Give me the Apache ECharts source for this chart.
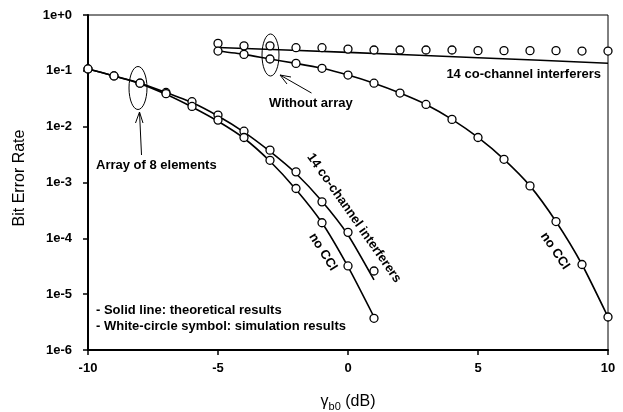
<!DOCTYPE html>
<html>
<head>
<meta charset="utf-8">
<script src="https://cdn.jsdelivr.net/npm/echarts@6/dist/echarts.min.js"></script>
<style>
  html, body { margin: 0; padding: 0; background: #fff; }
  #main { width: 623px; height: 412px; }
</style>
</head>
<body>
<div id="main"></div>
<script>
// x values (dB)
var xArr = [-10, -9, -8, -7, -6, -5, -4, -3, -2, -1, 0, 1];
var xNoArr = [-5, -4, -3, -2, -1, 0, 1, 2, 3, 4, 5, 6, 7, 8, 9, 10];

// array of 8 elements, 14 CCI
var arrCciSim = [0.108, 0.081, 0.060, 0.041, 0.028, 0.0161, 0.0083, 0.0038, 0.00155, 4.5e-4, 1.28e-4, 2.6e-5];
var arrCciTheory = [0.108, 0.081, 0.060, 0.041, 0.027, 0.0155, 0.0080, 0.0036, 0.00145, 4.6e-4, 1.15e-4, 1.8e-5];
// array of 8 elements, no CCI
var arrNoSim = [0.108, 0.081, 0.060, 0.039, 0.023, 0.0131, 0.0064, 0.0025, 7.8e-4, 1.9e-4, 3.2e-5, 3.7e-6];
var arrNoTheory = [0.108, 0.081, 0.059, 0.038, 0.0225, 0.0125, 0.0062, 0.0024, 7.5e-4, 1.9e-4, 3.1e-5, 3.9e-6];

// without array, 14 CCI
var noArrCciSim = [0.31, 0.28, 0.28, 0.26, 0.26, 0.245, 0.236, 0.236, 0.236, 0.236, 0.23, 0.23, 0.23, 0.23, 0.226, 0.226];
var noArrCciTheoryX = [-5, 0, 5, 10];
var noArrCciTheory = [0.262, 0.214, 0.172, 0.137];
// without array, no CCI
var noArrNoSim = [0.226, 0.197, 0.163, 0.136, 0.111, 0.084, 0.060, 0.040, 0.025, 0.0135, 0.0064, 0.0026, 8.7e-4, 2.0e-4, 3.4e-5, 3.9e-6];

var yTickLabels = ['1e-6', '1e-5', '1e-4', '1e-3', '1e-2', '1e-1', '1e+0'];
var xTickLabels = ['-10', '-5', '0', '5', '10'];

function pairs(xs, ys) {
  return xs.map(function (x, i) { return [x, ys[i]]; });
}

var font = '"Liberation Sans", Arial, sans-serif';
var bf = 'bold 13px ' + font;

var lineSeries = function (data) {
  return {
    type: 'line', data: data, showSymbol: false, symbol: 'none', smooth: 0.2,
    lineStyle: { color: '#000', width: 1.6 }, silent: true, z: 2
  };
};
var simSeries = function (data) {
  return {
    type: 'scatter', data: data, symbol: 'circle', symbolSize: 8,
    itemStyle: { color: '#fff', borderColor: '#000', borderWidth: 1.3, opacity: 1 }, z: 3
  };
};

var chart = echarts.init(document.getElementById('main'));
var option = {
  backgroundColor: '#fff',
  animation: false,
  grid: { left: 88, right: 15, top: 15, bottom: 62, show: true, borderColor: '#000', borderWidth: 1 },
  xAxis: {
    type: 'value', min: -10, max: 10, interval: 5,
    axisLine: { onZero: false, lineStyle: { color: '#000', width: 2 } },
    axisTick: { lineStyle: { color: '#000', width: 1.5 }, length: 5 },
    splitLine: { show: false },
    axisLabel: {
      color: '#000', fontFamily: font, fontWeight: 'bold', fontSize: 13, margin: 12,
      formatter: function (v) { return xTickLabels[(v + 10) / 5]; }
    }
  },
  yAxis: {
    type: 'log', logBase: 10, min: 1e-6, max: 1,
    axisLine: { onZero: false, lineStyle: { color: '#000', width: 2 } },
    axisTick: { lineStyle: { color: '#000', width: 1.5 }, length: 5 },
    minorTick: { show: false },
    splitLine: { show: false },
    axisLabel: {
      color: '#000', fontFamily: font, fontWeight: 'bold', fontSize: 13, margin: 16,
      formatter: function (v) { return yTickLabels[Math.round(Math.log10(v)) + 6]; }
    }
  },
  series: [
    lineSeries(pairs(xArr, arrCciTheory)),
    lineSeries(pairs(xArr, arrNoTheory)),
    lineSeries(pairs(noArrCciTheoryX, noArrCciTheory)),
    lineSeries(pairs(xNoArr, noArrNoSim)),
    simSeries(pairs(xArr, arrCciSim)),
    simSeries(pairs(xArr, arrNoSim)),
    simSeries(pairs(xNoArr, noArrCciSim)),
    simSeries(pairs(xNoArr, noArrNoSim))
  ],
  graphic: [
    // axis titles
    { type: 'text', x: 20, y: 178, rotation: Math.PI / 2, style: { text: 'Bit Error Rate', font: '16px ' + font, fill: '#000', align: 'center', verticalAlign: 'middle' } },
    { type: 'text', x: 348, y: 402, style: {
      text: '{g|γ}{s|b0}{n| (dB)}', align: 'center', verticalAlign: 'middle',
      rich: {
        g: { font: '16px ' + font, fill: '#000' },
        s: { font: '11px ' + font, fill: '#000', padding: [9, 0, 0, 0] },
        n: { font: '16px ' + font, fill: '#000' }
      }
    } },
    // annotations
    { type: 'text', x: 601, y: 74, style: { text: '14 co-channel interferers', font: bf, fill: '#000', align: 'right', verticalAlign: 'middle' } },
    { type: 'text', x: 269, y: 103, style: { text: 'Without array', font: bf, fill: '#000', align: 'left', verticalAlign: 'middle' } },
    { type: 'text', x: 96, y: 165, style: { text: 'Array of 8 elements', font: bf, fill: '#000', align: 'left', verticalAlign: 'middle' } },
    { type: 'text', x: 354, y: 218, rotation: -55 * Math.PI / 180, style: { text: '14 co-channel interferers', font: bf, fill: '#000', align: 'center', verticalAlign: 'middle' } },
    { type: 'text', x: 323, y: 252, rotation: -58 * Math.PI / 180, style: { text: 'no CCI', font: bf, fill: '#000', align: 'center', verticalAlign: 'middle' } },
    { type: 'text', x: 555, y: 251, rotation: -56 * Math.PI / 180, style: { text: 'no CCI', font: bf, fill: '#000', align: 'center', verticalAlign: 'middle' } },
    { type: 'text', x: 96, y: 310, style: { text: '- Solid line: theoretical results', font: bf, fill: '#000', align: 'left', verticalAlign: 'middle' } },
    { type: 'text', x: 96, y: 326, style: { text: '- White-circle symbol: simulation results', font: bf, fill: '#000', align: 'left', verticalAlign: 'middle' } },
    // ellipses
    { type: 'ellipse', shape: { cx: 138, cy: 88, rx: 9, ry: 21.5 }, style: { fill: 'none', stroke: '#000', lineWidth: 1 }, z: 10 },
    { type: 'ellipse', shape: { cx: 270.5, cy: 55, rx: 8.5, ry: 21 }, style: { fill: 'none', stroke: '#000', lineWidth: 1 }, z: 10 },
    // arrows
    { type: 'polyline', shape: { points: [[141.5, 155], [139.5, 112]] }, style: { stroke: '#000', lineWidth: 1 }, z: 10 },
    { type: 'polyline', shape: { points: [[135.5, 123], [139.5, 112], [143, 123]] }, style: { stroke: '#000', fill: 'none', lineWidth: 1 }, z: 10 },
    { type: 'polyline', shape: { points: [[311.5, 93], [280, 75]] }, style: { stroke: '#000', lineWidth: 1 }, z: 10 },
    { type: 'polyline', shape: { points: [[291, 77], [280, 75], [287, 84]] }, style: { stroke: '#000', fill: 'none', lineWidth: 1 }, z: 10 }
  ]
};
chart.setOption(option);
</script>
</body>
</html>
